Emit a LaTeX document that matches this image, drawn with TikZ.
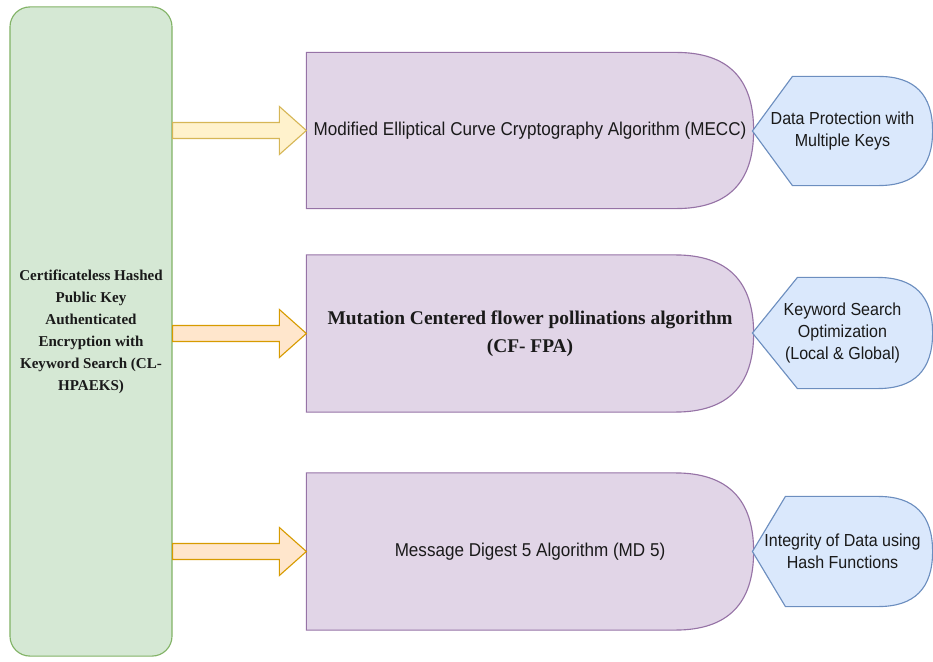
\documentclass[tikz,border=0pt]{standalone}
\usepackage{fontspec}
\setmainfont{Liberation Sans}
\newfontfamily\algosans[FakeStretch=0.92]{Liberation Sans}
\newfontfamily\algoserif{Liberation Serif}
\usetikzlibrary{calc, backgrounds}

\definecolor{srcfill}{HTML}{D5E8D4}
\definecolor{srcline}{HTML}{82B366}
\definecolor{algofill}{HTML}{E1D5E7}
\definecolor{algoline}{HTML}{9673A6}
\definecolor{goalfill}{HTML}{DAE8FC}
\definecolor{goalline}{HTML}{6C8EBF}
\definecolor{yelfill}{HTML}{FFF2CC}
\definecolor{yelline}{HTML}{D6B656}
\definecolor{orgfill}{HTML}{FFE6CC}
\definecolor{orgline}{HTML}{D79B00}
\definecolor{txtdark}{HTML}{1A1A1A}

% outlines around a node: #3 = half height of the round end, #4 = depth of the point
\newcommand{\delayoutline}[3]{%
  \filldraw[#1] (#2.north west) -- ($(#2.north east)+(-#3,0)$)
    .. controls ($(#2.north east)+(-#3/3,0)$) and ($(#2.north east)+(0,#3/3)$) .. (#2.east)
    .. controls ($(#2.south east)+(0,-#3/3)$) and ($(#2.south east)+(-#3/3,0)$) .. ($(#2.south east)+(-#3,0)$)
    -- (#2.south west) -- cycle;}
\newcommand{\displayoutline}[4]{%
  \filldraw[#1] (#2.west) -- ($(#2.north west)+(#4,0)$) -- ($(#2.north east)+(-#3,0)$)
    .. controls ($(#2.north east)+(-#3/3,0)$) and ($(#2.north east)+(0,#3/3)$) .. (#2.east)
    .. controls ($(#2.south east)+(0,-#3/3)$) and ($(#2.south east)+(-#3/3,0)$) .. ($(#2.south east)+(-#3,0)$)
    -- ($(#2.south west)+(#4,0)$) -- cycle;}
\newcommand{\fatarrow}[3]{%
  \filldraw[#1] ($(#2)+(0,-8)$) -- ($(#3)+(-27,-8)$) -- ($(#3)+(-27,-24)$) -- (#3)
    -- ($(#3)+(-27,24)$) -- ($(#3)+(-27,8)$) -- ($(#2)+(0,8)$) -- cycle;}

\tikzset{
    src_box/.style={
        rectangle, rounded corners=0.5cm, fill=srcfill, draw=srcline,
        minimum width=4.05cm, minimum height=16.225cm, inner sep=0pt,
        align=center, text=txtdark,
        font=\algoserif\bfseries\fontsize{10.7pt}{15.6pt}\selectfont
    },
    algo_box/.style={
        rectangle, inner sep=0pt, minimum width=11.15cm, minimum height=3.9cm,
        align=center, text=txtdark,
        font=\algosans\fontsize{13.2pt}{15.8pt}\selectfont
    },
    algo_serif/.style={
        font=\algoserif\bfseries\fontsize{13.8pt}{19.8pt}\selectfont
    },
    goal_box/.style={
        rectangle, inner sep=0pt, minimum width=4.475cm, minimum height=2.725cm,
        align=center, text=txtdark,
        font=\algosans\fontsize{12.4pt}{15.5pt}\selectfont
    },
    algo_shape/.style={fill=algofill, draw=algoline, line width=0.8pt},
    goal_shape/.style={fill=goalfill, draw=goalline, line width=0.8pt},
    arrow_yellow/.style={fill=yelfill, draw=yelline, line width=0.8pt, line join=miter},
    arrow_orange/.style={fill=orgfill, draw=orgline, line width=0.8pt, line join=miter}
}

\begin{document}
\begin{tikzpicture}[x=0.025cm, y=-0.025cm, line width=0.8pt]
    \useasboundingbox (0,0) rectangle (933,662);

    \node[src_box] (src) at (91,331.5) {Certificateless Hashed\\Public Key\\Authenticated\\Encryption with\\Keyword Search (CL-\\HPAEKS)};

    \node[algo_box, minimum height=3.875cm] (mecc) at (530,130.5) {Modified Elliptical Curve Cryptography Algorithm (MECC)};
    \node[algo_box, algo_serif] (cffpa) at (530,333.5) {Mutation Centered flower pollinations algorithm\\(CF- FPA)};
    \node[algo_box] (md5) at (530,551.5) {Message Digest 5 Algorithm (MD 5)};

    \node[goal_box, minimum height=2.7cm] (keys) at (842.5,131) {Data Protection with\\Multiple Keys};
    \node[goal_box, minimum height=2.75cm] (kso) at (842.5,333) {Keyword Search\\Optimization\\(Local \& Global)};
    \node[goal_box] (hash) at (842.5,551.5) {Integrity of Data using\\Hash Functions};

    \begin{scope}[on background layer]
        \delayoutline{algo_shape}{mecc}{77.5}
        \delayoutline{algo_shape}{cffpa}{78.5}
        \delayoutline{algo_shape}{md5}{78.5}
        \displayoutline{goal_shape}{keys}{54}{40}
        \displayoutline{goal_shape}{kso}{55}{45}
        \displayoutline{goal_shape}{hash}{54.5}{33}
    \end{scope}

    \fatarrow{arrow_yellow}{src.east |- mecc.west}{mecc.west}
    \fatarrow{arrow_orange}{src.east |- cffpa.west}{cffpa.west}
    \fatarrow{arrow_orange}{src.east |- md5.west}{md5.west}
\end{tikzpicture}
\end{document}
